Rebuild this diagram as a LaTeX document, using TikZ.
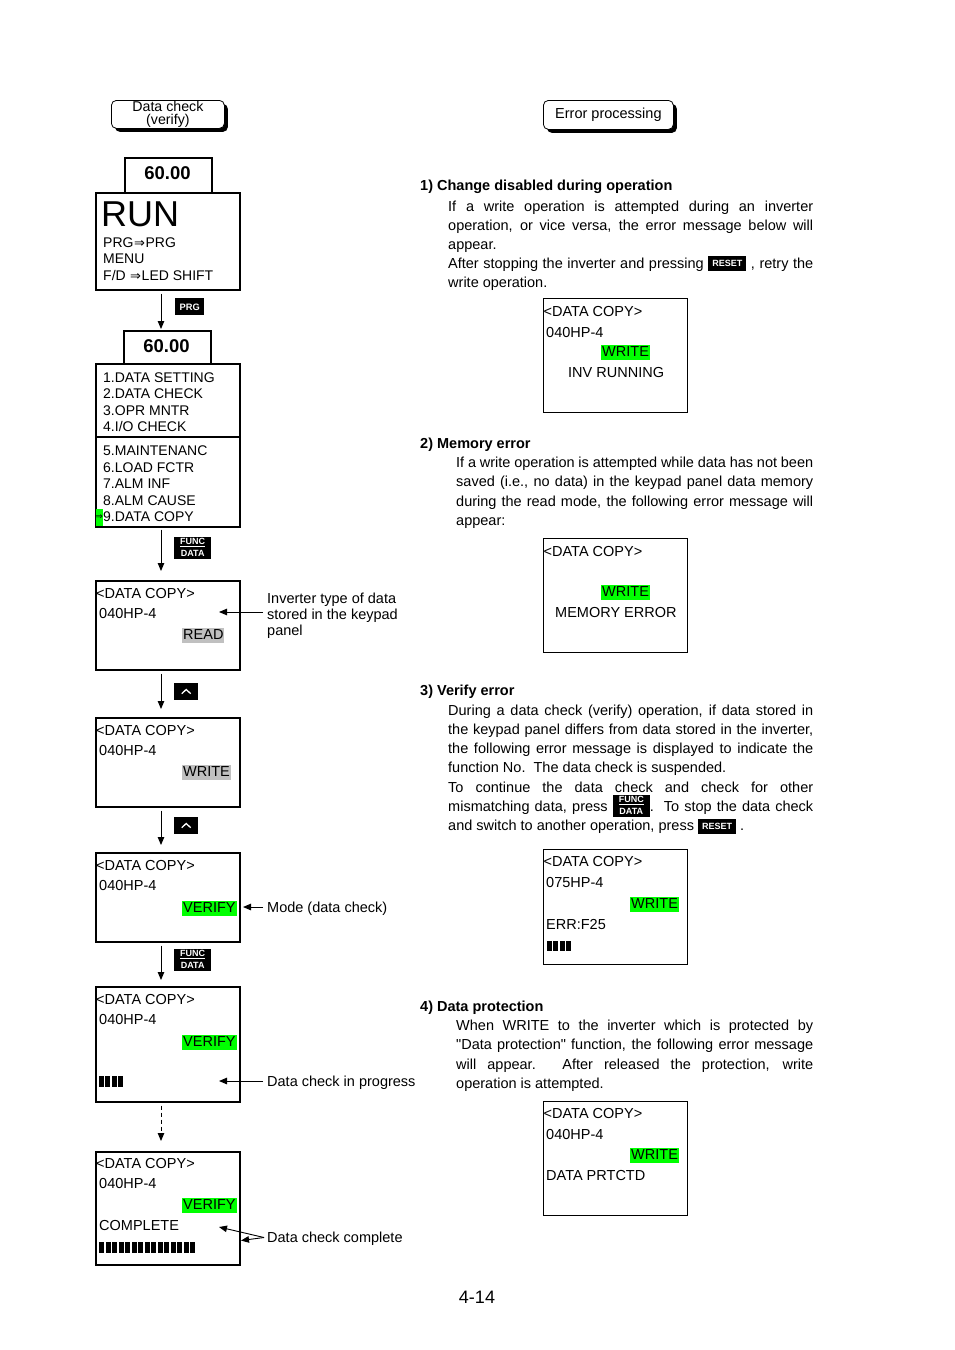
\documentclass[tikz,border=0pt]{standalone}
\usepackage{fontspec}
\setmainfont{Liberation Sans}
\newfontfamily\plainf{Liberation Sans}
\newfontfamily\symf{DejaVu Sans}
\usetikzlibrary{arrows.meta,calc,shadows}
\definecolor{hlgreen}{RGB}{0,255,0}
\definecolor{hlgray}{RGB}{192,192,192}
\newcommand\resetkey{{\setlength{\fboxsep}{0pt}\colorbox{black}{\rule[-3pt]{0pt}{15pt}\makebox[38pt]{\raisebox{1.2pt}{\color{white}\bfseries\fontsize{9}{9}\selectfont RESET}}}}}
\newcommand\fdkey{{\setlength{\fboxsep}{0pt}\colorbox{black}{\rule[-6pt]{0pt}{22pt}\makebox[37pt]{\raisebox{-3pt}{\color{white}\bfseries\fontsize{9}{9}\selectfont\shortstack{\underline{FUNC}\\DATA}}}}}}
\newcommand\prgkey{{\setlength{\fboxsep}{0pt}\colorbox{black}{\rule[-4pt]{0pt}{17pt}\makebox[29pt]{\raisebox{1.2pt}{\color{white}\bfseries\fontsize{9.3}{9.3}\selectfont PRG}}}}}
\newcommand\darr{{\symf\fontsize{13}{13}\selectfont\kern0.6pt⇒\kern0.6pt}}
\newcommand\dq{{\plainf"}}
\newcommand\jl[2]{\makebox[#1][s]{#2}}
\begin{document}
\begin{tikzpicture}[x=1pt,y=-1pt,
  panel/.style={draw, line width=1.6pt, anchor=north west, minimum width=144pt, minimum height=#1, inner sep=0pt},
  rpanel/.style={draw, line width=1.3pt, anchor=north west, minimum width=144pt, minimum height=#1, inner sep=0pt},
  valbox/.style={draw, line width=1.6pt, anchor=north west, minimum width=87pt, minimum height=#1, inner sep=0pt},
  t14/.style={anchor=base west, inner sep=0pt, font=\fontsize{14.5}{16}\selectfont},
  t13/.style={anchor=base west, inner sep=0pt, font=\fontsize{14}{16}\selectfont},
  hd/.style={anchor=base west, inner sep=0pt, font=\bfseries\fontsize{14.5}{16}\selectfont},
  val/.style={anchor=base, inner sep=0pt, font=\bfseries\fontsize{18.5}{20}\selectfont},
  hl/.style={fill=#1, anchor=base west, inner xsep=1pt, inner ysep=0pt, text height=11pt, text depth=4pt, font=\fontsize{14.5}{16}\selectfont},
  keyn/.style={anchor=north west, inner sep=0pt},
  upkey/.style={fill=black, anchor=north west, minimum width=24pt, minimum height=17pt, inner sep=0pt},
  arr/.style={-{Triangle[length=8pt,width=6.5pt]}, line width=0.9pt},
  tabbox/.style={draw, fill=white, rounded corners=5pt, line width=0.8pt, anchor=north west, inner sep=0pt, align=center,
     drop shadow={shadow xshift=3.5pt, shadow yshift=-3.5pt, opacity=1, fill=black}},
  bar/.style={fill=black}
]
\useasboundingbox (0,0) rectangle (954,1350);
\coordinate (ax) at (161,0);

% ---------- title boxes ----------
\node[tabbox, minimum width=113pt, minimum height=28pt, font=\fontsize{14.2}{13.8}\selectfont] (dc) at (111,100) {Data check\\(verify)};
\node[tabbox, minimum width=130pt, minimum height=29pt, font=\fontsize{14.5}{16}\selectfont] (ep) at (543,100) {Error processing};

% ---------- RUN panel ----------
\node[valbox=35pt] (v1) at (124,157) {};
\node[val] (v1t) at (167.5,179) {60.00};
\node[panel=97pt] (run) at (95,192) {};
\node[anchor=base west, inner sep=0pt, font=\fontsize{36}{38}\selectfont] (runt) at (101,226) {RUN};
\node[t13] (r1) at (103,247) {PRG\darr PRG};
\node[t13] (r2) at (103,263.5) {MENU};
\node[t13] (r3) at (103,280) {F/D \darr LED SHIFT};

\node[keyn] (kprg) at (175,298) {\prgkey};

% ---------- menu ----------
\node[valbox=33pt] (v2) at (123,330) {};
\node[val] (v2t) at (166.5,352.5) {60.00};
\node[panel=163pt] (menu) at (95,363) {};
\draw[line width=1.6pt] ($(menu.north west)+(0,74)$) -- ($(menu.north east)+(0,74)$);
\node[t13] (m1) at (103,382) {1.DATA SETTING};
\node[t13] (m2) at (103,398.5) {2.DATA CHECK};
\node[t13] (m3) at (103,415) {3.OPR MNTR};
\node[t13] (m4) at (103,431.5) {4.I/O CHECK};
\node[t13] (m5) at (103,455.5) {5.MAINTENANC};
\node[t13] (m6) at (103,472) {6.LOAD FCTR};
\node[t13] (m7) at (103,488.5) {7.ALM INF};
\node[t13] (m8) at (103,505) {8.ALM CAUSE};
\node[t13] (m9) at (103,521.5) {9.DATA COPY};
\node[fill=hlgreen, anchor=north west, minimum width=7pt, minimum height=17pt, inner sep=0pt] (cur) at (95.8,508.5) {\makebox[7pt][r]{\symf\fontsize{9}{9}\selectfont ⇒}};

\node[keyn] (kfd1) at (174,537) {\fdkey};

% ---------- panel 3 (READ) ----------
\node[panel=89pt] (p3) at (95,580) {};
\node[t14] (p3a) at (96,598) {<DATA COPY>};
\node[t14] (p3b) at (99,618) {040HP-4};
\node[hl=hlgray] (p3c) at (182,639) {READ};
\node[t14] (l1a) at (267,603) {Inverter type of data};
\node[t14] (l1b) at (267,619.3) {stored in the keypad};
\node[t14] (l1c) at (267,635.6) {panel};
\coordinate (tip1) at (219,612);

\node[upkey] (ku1) at (174,683) {};

% ---------- panel 4 (WRITE) ----------
\node[panel=89pt] (p4) at (95,717) {};
\node[t14] (p4a) at (96,735) {<DATA COPY>};
\node[t14] (p4b) at (99,755) {040HP-4};
\node[hl=hlgray] (p4c) at (182,776) {WRITE};

\node[upkey] (ku2) at (174,817) {};

% ---------- panel 5 (VERIFY) ----------
\node[panel=89pt] (p5) at (95,852) {};
\node[t14] (p5a) at (96,870) {<DATA COPY>};
\node[t14] (p5b) at (99,890) {040HP-4};
\node[hl=hlgreen] (p5c) at (182,912) {VERIFY};
\node[t14] (l2) at (267,912) {Mode (data check)};
\coordinate (tip2) at (243,907);

\node[keyn] (kfd2) at (174,949) {\fdkey};

% ---------- panel 6 (in progress) ----------
\node[panel=115pt] (p6) at (95,986) {};
\node[t14] (p6a) at (96,1004) {<DATA COPY>};
\node[t14] (p6b) at (99,1024) {040HP-4};
\node[hl=hlgreen] (p6c) at (182,1046) {VERIFY};
\foreach \i in {0,...,3} {\fill[bar] (99+6.4*\i,1076) rectangle ++(5,11);}
\node[t14] (l3) at (267,1086) {Data check in progress};
\coordinate (tip3) at (219,1081);

% ---------- panel 7 (complete) ----------
\node[panel=113pt] (p7) at (95,1151) {};
\node[t14] (p7a) at (96,1168) {<DATA COPY>};
\node[t14] (p7b) at (99,1188) {040HP-4};
\node[hl=hlgreen] (p7c) at (182,1209) {VERIFY};
\node[t14] (p7d) at (99,1230) {COMPLETE};
\foreach \i in {0,...,14} {\fill[bar] (99+6.5*\i,1242) rectangle ++(5,10.5);}
\node[t14] (l4) at (267,1242) {Data check complete};
\coordinate (j4) at (264,1237.5);
\coordinate (tip4a) at (219,1227);
\coordinate (tip4b) at (241,1240.5);

% ---------- up key chevrons ----------
\foreach \k in {ku1,ku2} {
  \draw[white, line width=1.3pt] ($(\k.center)+(-4.5,2)$) -- ($(\k.center)+(0,-2.2)$) -- ($(\k.center)+(4.5,2)$);
}

% ---------- connectors ----------
\draw[arr] ([yshift=-3pt]run.south -| ax) -- ([yshift=1pt]v2.north -| ax);
\draw[arr] ([yshift=-2pt]menu.south -| ax) -- ([yshift=9pt]p3.north -| ax);
\draw[arr] ([yshift=-3pt]p3.south -| ax) -- ([yshift=8pt]p4.north -| ax);
\draw[arr] ([yshift=-3pt]p4.south -| ax) -- ([yshift=7pt]p5.north -| ax);
\draw[arr] ([yshift=-3pt]p5.south -| ax) -- ([yshift=6pt]p6.north -| ax);
\draw[arr, dash pattern=on 4pt off 3pt] ([yshift=-3pt]p6.south -| ax) -- ([yshift=10pt]p7.north -| ax);
\draw[arr] ([xshift=-4pt]l1a.west |- tip1) -- (tip1);
\draw[arr] ([xshift=-4pt]l2.west |- tip2) -- (tip2);
\draw[arr] ([xshift=-4pt]l3.west |- tip3) -- (tip3);
\draw[arr] (j4) -- (tip4a);
\draw[arr] (j4) -- (tip4b);

% ---------- right column ----------
\node[hd] (h1) at (420,190) {1) Change disabled during operation};
\node[t14] (s1a) at (448,211) {\jl{365pt}{If a write operation is attempted during an inverter}};
\node[t14] (s1b) at (448,230) {\jl{365pt}{operation, or vice versa, the error message below will}};
\node[t14] (s1c) at (448,249) {appear.};
\node[t14] (s1d) at (448,268) {\jl{365pt}{After stopping the inverter and pressing \resetkey\ , retry the}};
\node[t14] (s1e) at (448,287.5) {write operation.};

\node[rpanel=114pt] (b1) at (543,298) {};
\node[t14] (b1a) at (543.5,316.5) {<DATA COPY>};
\node[t14] (b1b) at (546,337) {040HP-4};
\node[hl=hlgreen] (b1c) at (601,356) {WRITE};
\node[t14] (b1d) at (568,377) {INV RUNNING};

\node[hd] (h2) at (420,448) {2) Memory error};
\node[t14] (s2a) at (456,467) {\jl{357pt}{If a write operation is attempted while data has not been}};
\node[t14] (s2b) at (456,486.5) {\jl{357pt}{saved (i.e., no data) in the keypad panel data memory}};
\node[t14] (s2c) at (456,506) {\jl{357pt}{during the read mode, the following error message will}};
\node[t14] (s2d) at (456,525) {appear:};

\node[rpanel=114pt] (b2) at (543,538) {};
\node[t14] (b2a) at (543.5,556.5) {<DATA COPY>};
\node[hl=hlgreen] (b2c) at (601,596) {WRITE};
\node[t14] (b2d) at (555,617) {MEMORY ERROR};

\node[hd] (h3) at (420,695) {3) Verify error};
\node[t14] (s3a) at (448,715) {\jl{365pt}{During a data check (verify) operation, if data stored in}};
\node[t14] (s3b) at (448,734) {\jl{365pt}{the keypad panel differs from data stored in the inverter,}};
\node[t14] (s3c) at (448,753) {\jl{365pt}{the following error message is displayed to indicate the}};
\node[t14] (s3d) at (448,772.5) {function No.\ \ The data check is suspended.};
\node[t14] (s3e) at (448,792) {\jl{365pt}{To continue the data check and check for other}};
\node[t14] (s3f) at (448,811) {\jl{365pt}{mismatching data, press \fdkey.\ \ To stop the data check}};
\node[t14] (s3g) at (448,830.5) {and switch to another operation, press \resetkey\ .};

\node[rpanel=115pt] (b3) at (543,849) {};
\node[t14] (b3a) at (543.5,866.5) {<DATA COPY>};
\node[t14] (b3b) at (546,887) {075HP-4};
\node[hl=hlgreen] (b3c) at (630,908) {WRITE};
\node[t14] (b3d) at (546,929) {ERR:F25};
\foreach \i in {0,...,3} {\fill[bar] (547+6.4*\i,940.5) rectangle ++(5,10.5);}

\node[hd] (h4) at (420,1011) {4) Data protection};
\node[t14] (s4a) at (456,1030) {\jl{357pt}{When WRITE to the inverter which is protected by}};
\node[t14] (s4b) at (456,1049.5) {\jl{357pt}{\dq Data protection\dq{} function, the following error message}};
\node[t14] (s4c) at (456,1069) {\jl{357pt}{will appear. After released the protection, write}};
\node[t14] (s4d) at (456,1088) {operation is attempted.};

\node[rpanel=114pt] (b4) at (543,1101) {};
\node[t14] (b4a) at (543.5,1118.5) {<DATA COPY>};
\node[t14] (b4b) at (546,1139) {040HP-4};
\node[hl=hlgreen] (b4c) at (630,1159) {WRITE};
\node[t14] (b4d) at (546,1180) {DATA PRTCTD};

\node[anchor=base, inner sep=0pt, font=\fontsize{18}{20}\selectfont] (pg) at (477,1303.5) {4-14};
\end{tikzpicture}
\end{document}
